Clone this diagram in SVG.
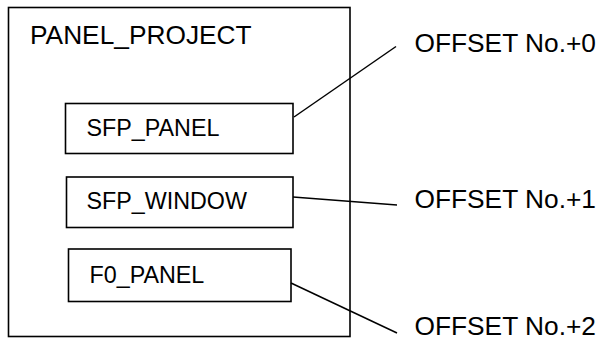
<svg xmlns="http://www.w3.org/2000/svg" width="602" height="341" viewBox="0 0 602 341">
<style>
.box{fill:none;stroke:#000;stroke-width:1.6}
.lbl{font-family:"Liberation Sans",Arial,sans-serif;fill:#000}
.big{font-size:26.3px}
.small{font-size:23.3px}
.con{stroke:#000;stroke-width:1.5;fill:none}
</style>
<rect width="602" height="341" fill="#fff"/>
<g id="panel_project">
<rect class="box" x="8.5" y="7.5" width="341.5" height="329"/>
<text class="lbl big" x="30" y="44">PANEL_PROJECT</text>
</g>
<g id="sfp_panel">
<rect class="box" x="65.5" y="103.5" width="227.5" height="50"/>
<text class="lbl small" x="86.5" y="136">SFP_PANEL</text>
</g>
<g id="sfp_window">
<rect class="box" x="66.5" y="177" width="226.5" height="50.5"/>
<text class="lbl small" x="86.5" y="209">SFP_WINDOW</text>
</g>
<g id="f0_panel">
<rect class="box" x="68.5" y="249" width="222.5" height="52.5"/>
<text class="lbl small" x="89.5" y="283">F0_PANEL</text>
</g>
<g id="offset0"><text class="lbl big" x="414.5" y="52">OFFSET No.+0</text></g>
<g id="offset1"><text class="lbl big" x="414.5" y="208">OFFSET No.+1</text></g>
<g id="offset2"><text class="lbl big" x="414.5" y="335">OFFSET No.+2</text></g>
<g id="connectors">
<line class="con" x1="294" y1="117" x2="396" y2="46.5"/>
<line class="con" x1="293" y1="197" x2="397" y2="205"/>
<line class="con" x1="291" y1="283" x2="397" y2="333"/>
</g>
</svg>
